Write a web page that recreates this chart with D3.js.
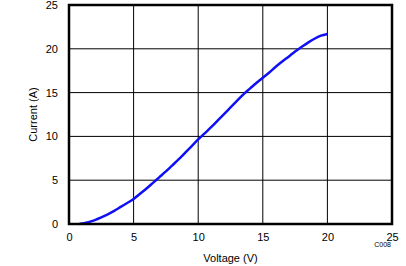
<!DOCTYPE html>
<html>
<head>
<meta charset="utf-8">
<script src="https://cdn.jsdelivr.net/npm/d3@7"></script>
<style>
  body { margin: 0; background: #fff; }
  svg { font-family: "Liberation Sans", Arial, sans-serif; }
</style>
</head>
<body>
<div id="chart"></div>
<script>
// Current vs voltage curve

var voltage = [0.8, 1.0, 1.5, 2.0, 2.5, 3.0, 3.5, 4.0, 4.5, 5.0, 5.5, 6.0, 6.5, 7.0, 7.5,
  8.0, 8.5, 9.0, 9.5, 10.0, 10.5, 11.0, 11.5, 12.0, 12.5, 13.0, 13.5, 14.0, 14.5,
  15.0, 15.5, 16.0, 16.5, 17.0, 17.5, 18.0, 18.5, 19.0, 19.5, 20.0];
var current = [0.0, 0.05, 0.2, 0.45, 0.75, 1.1, 1.5, 1.95, 2.4, 2.85, 3.45, 4.05, 4.7, 5.35, 6.0,
  6.7, 7.4, 8.15, 8.9, 9.65, 10.35, 11.05, 11.8, 12.55, 13.3, 14.05, 14.8, 15.45, 16.1,
  16.7, 17.3, 17.95, 18.55, 19.1, 19.7, 20.2, 20.7, 21.15, 21.5, 21.7];

var xTicks = [0, 5, 10, 15, 20, 25];
var yTicks = [0, 5, 10, 15, 20, 25];

var width = 406, height = 266;
var margin = { left: 69, right: 14, top: 5, bottom: 42 };

var svg = d3.select('#chart').append('svg')
  .attr('width', width)
  .attr('height', height);

var x = d3.scaleLinear().domain([0, 25]).range([margin.left, width - margin.right]);
var y = d3.scaleLinear().domain([0, 25]).range([height - margin.bottom, margin.top]);

// grid lines
svg.append('g').selectAll('line.vx')
  .data(xTicks.slice(1, -1))
  .enter().append('line')
    .attr('x1', function(d) { return x(d); })
    .attr('x2', function(d) { return x(d); })
    .attr('y1', y(0)).attr('y2', y(25))
    .attr('stroke', '#000').attr('stroke-width', 1);

svg.append('g').selectAll('line.hy')
  .data(yTicks.slice(1, -1))
  .enter().append('line')
    .attr('y1', function(d) { return y(d); })
    .attr('y2', function(d) { return y(d); })
    .attr('x1', x(0)).attr('x2', x(25))
    .attr('stroke', '#000').attr('stroke-width', 1);

// axes, tick labels only
var xAxis = svg.append('g')
  .attr('transform', 'translate(0,' + y(0) + ')')
  .call(d3.axisBottom(x).tickValues(xTicks).tickSize(0).tickPadding(9));
var yAxis = svg.append('g')
  .attr('transform', 'translate(' + x(0) + ',0)')
  .call(d3.axisLeft(y).tickValues(yTicks).tickSize(0).tickPadding(11));
[xAxis, yAxis].forEach(function(a) {
  a.select('.domain').remove();
  a.selectAll('text')
    .attr('font-family', '"Liberation Sans", Arial, sans-serif')
    .attr('font-size', 11)
    .attr('fill', '#000');
});

// the curve
var line = d3.line()
  .x(function(d, i) { return x(voltage[i]); })
  .y(function(d) { return y(d); })
  .curve(d3.curveMonotoneX);

svg.append('path')
  .datum(current)
  .attr('d', line)
  .attr('fill', 'none')
  .attr('stroke', '#1010f5')
  .attr('stroke-width', 2.5);

// frame
svg.append('rect')
  .attr('x', x(0)).attr('y', y(25))
  .attr('width', x(25) - x(0))
  .attr('height', y(0) - y(25))
  .attr('fill', 'none')
  .attr('stroke', '#000')
  .attr('stroke-width', 2.5);

svg.append('text')
  .attr('x', (x(0) + x(25)) / 2)
  .attr('y', 262)
  .attr('text-anchor', 'middle')
  .attr('font-size', 11)
  .text('Voltage (V)');

svg.append('text')
  .attr('transform', 'translate(37,' + ((y(0) + y(25)) / 2) + ') rotate(-90)')
  .attr('text-anchor', 'middle')
  .attr('font-size', 11)
  .text('Current (A)');

svg.append('text')
  .attr('x', 391)
  .attr('y', 247)
  .attr('text-anchor', 'end')
  .attr('font-size', 7)
  .text('C008');
</script>
</body>
</html>
